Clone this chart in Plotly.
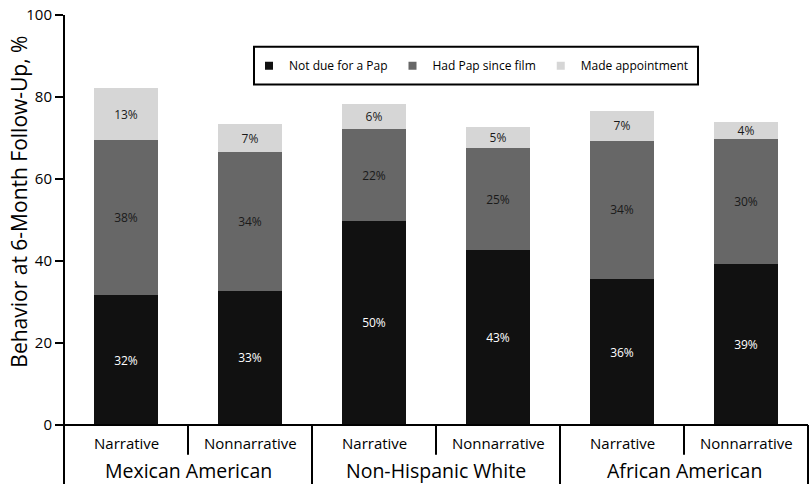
import plotly.graph_objects as go

# ---- data -------------------------------------------------------------
groups = ["Mexican American", "Non-Hispanic White", "African American"]
film_types = ["Narrative", "Nonnarrative"]
series_names = ["Not due for a Pap", "Had Pap since film", "Made appointment"]

not_due = [31.6, 32.8, 49.8, 42.6, 35.6, 39.3]
had_pap = [37.8, 33.7, 22.3, 25.0, 33.7, 30.4]
made_appt = [12.9, 6.9, 6.2, 5.1, 7.4, 4.2]

y_ticks = [0, 20, 40, 60, 80, 100]
y_title = "Behavior at 6-Month Follow-Up, %"

# ---- styling ----------------------------------------------------------
FONT = "Open Sans"
colors = ["#111111", "#676767", "#d6d6d6"]
text_colors = ["#ffffff", "#1a1a1a", "#1a1a1a"]

categories = [f"{g} | {f}" for g in groups for f in film_types]
n = len(categories)
series = [not_due, had_pap, made_appt]

W, H = 812, 484
ml, mr, mt, mb = 64, 4, 12, 59
plot_h = H - mt - mb
plot_w = W - ml - mr

fig = go.Figure()
for name, vals, col, tcol in zip(series_names, series, colors, text_colors):
    fig.add_trace(go.Bar(
        x=categories, y=vals, name=name,
        marker=dict(color=col, line=dict(width=0)),
        width=0.52,
        text=[f"{v:.0f}%" for v in vals],
        textposition="inside", insidetextanchor="middle",
        constraintext="none", textangle=0,
        textfont=dict(family=FONT, size=12, color=tcol),
        showlegend=False, hoverinfo="skip",
    ))

# legend entries (small square markers like the original)
for name, col in zip(series_names, colors):
    fig.add_trace(go.Scatter(
        x=[None], y=[None], mode="markers", name=name,
        marker=dict(symbol="square", size=8, color=col),
        showlegend=True,
    ))

def px_to_paper_y(py):
    return (H - mb - py) / plot_h

def px_to_paper_x(px):
    return (px - ml) / plot_w

shapes = []
line = dict(color="black", width=2)
# left axis line, extended down through the label table
shapes.append(dict(type="line", xref="paper", yref="paper", x0=0, x1=0,
                   y0=1, y1=-mb / plot_h - 0.01, line=line))
# bottom axis line
shapes.append(dict(type="line", xref="paper", yref="paper", x0=0, x1=1,
                   y0=0, y1=0, line=line))
# full dividers between groups (and right border)
n_groups = len(groups)
n_sub = len(film_types)
for gi in range(1, n_groups + 1):
    xp = gi * n_sub / n
    shapes.append(dict(type="line", xref="paper", yref="paper", x0=xp, x1=xp,
                       y0=0, y1=-mb / plot_h - 0.01, line=line))
# half dividers between Narrative / Nonnarrative
for gi in range(n_groups):
    for si in range(1, n_sub):
        xp = (gi * n_sub + si) / n
        shapes.append(dict(type="line", xref="paper", yref="paper", x0=xp, x1=xp,
                           y0=0, y1=px_to_paper_y(455), line=line))
# legend box
shapes.append(dict(type="rect", xref="paper", yref="paper",
                   x0=px_to_paper_x(254), x1=px_to_paper_x(698),
                   y0=px_to_paper_y(82), y1=px_to_paper_y(44),
                   line=line, fillcolor="rgba(0,0,0,0)"))

annotations = []
for i, cat in enumerate(categories):
    annotations.append(dict(x=i, xref="x", y=px_to_paper_y(443), yref="paper",
                            text=film_types[i % n_sub], showarrow=False,
                            xanchor="center", yanchor="middle",
                            font=dict(family=FONT, size=15, color="black")))
for gi, g in enumerate(groups):
    annotations.append(dict(x=gi * n_sub + (n_sub - 1) / 2, xref="x",
                            y=px_to_paper_y(471), yref="paper",
                            text=g, showarrow=False,
                            xanchor="center", yanchor="middle",
                            font=dict(family=FONT, size=19.5, color="black")))
annotations.append(dict(x=px_to_paper_x(19), xref="paper",
                        y=px_to_paper_y(200), yref="paper",
                        text=y_title, textangle=-90, showarrow=False,
                        xanchor="center", yanchor="middle",
                        font=dict(family=FONT, size=21, color="black")))

fig.update_layout(
    width=W, height=H,
    margin=dict(l=ml, r=mr, t=mt, b=mb, pad=0),
    barmode="stack",
    plot_bgcolor="white", paper_bgcolor="white",
    font=dict(family=FONT, color="black"),
    shapes=shapes, annotations=annotations,
    legend=dict(orientation="h", x=px_to_paper_x(249), y=px_to_paper_y(63),
                xanchor="left", yanchor="middle", traceorder="normal",
                bgcolor="rgba(0,0,0,0)", borderwidth=0,
                font=dict(family=FONT, size=12, color="black")),
    xaxis=dict(type="category", categoryorder="array", categoryarray=categories,
               range=[-0.5, n - 0.5], showticklabels=False, ticks="",
               showline=False, showgrid=False, zeroline=False, fixedrange=True),
    yaxis=dict(range=[0, 100], tickvals=y_ticks, ticks="outside", ticklen=8,
               tickwidth=2, tickcolor="black", showline=False, showgrid=False,
               zeroline=False, tickfont=dict(family=FONT, size=15, color="black"),
               fixedrange=True),
)

fig.write_html("out.html", config={"displayModeBar": False},
               post_script="document.body.style.margin='0px';"
                           "document.body.style.overflow='hidden';")
